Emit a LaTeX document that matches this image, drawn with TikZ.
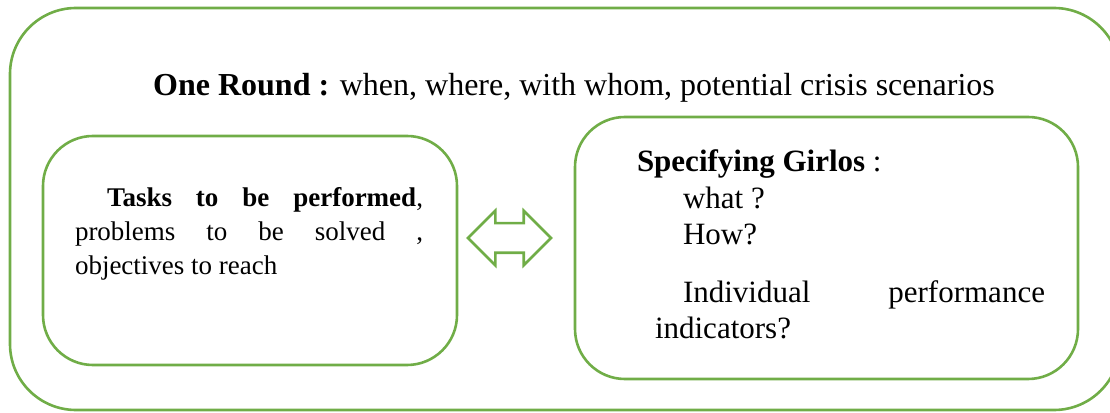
\documentclass[tikz,border=0pt]{standalone}
\usepackage{fontspec}
\setmainfont{Liberation Serif}
\usetikzlibrary{shapes.arrows}
\definecolor{leafgreen}{RGB}{112,173,71}
\setlength{\parindent}{0pt}
\tolerance=9999
\hyphenpenalty=10000
\exhyphenpenalty=10000

\begin{document}
\begin{tikzpicture}[x=1pt,y=1pt,
    roundbox/.style={draw=leafgreen, line width=2.6pt, rounded corners=50pt, inner sep=0pt},
    plain/.style={inner sep=0pt, outer sep=0pt}]
    \useasboundingbox (0,0) rectangle (1110,412);

    \node[roundbox, rounded corners=66pt, minimum width=1110pt, minimum height=402pt] (round) at (565,203) {};
    \node[roundbox, minimum width=414pt, minimum height=229pt] (tasks) at (250,161.5) {};
    \node[roundbox, minimum width=503pt, minimum height=262pt] (girlos) at (826.5,164) {};
    \node[shape=double arrow, draw=leafgreen, line width=2.6pt, inner xsep=0pt, inner ysep=13.5pt,
        minimum height=83pt, double arrow head extend=12.5pt] (swap) at (509.5,174) {};

    \node[plain, anchor=base, font=\fontsize{32}{38}\selectfont] (title) at (574,316)
        {\textbf{One Round :} when, where, with whom, potential crisis scenarios};
    \node[plain, anchor=north west, text width=348pt, align=justify, font=\fontsize{27}{34}\selectfont] (taskstext) at (75,225)
        {\hspace*{32pt}\textbf{Tasks to be performed}, problems to be solved~, objectives to reach};
    \node[plain, anchor=north west, align=left, font=\fontsize{31}{36.5}\selectfont] (ask) at (637,262)
        {\textbf{Specifying Girlos} :\\\hspace*{46pt}what ?\\\hspace*{46pt}How?};
    \node[plain, anchor=north west, text width=390pt, align=justify, font=\fontsize{31}{36}\selectfont] (indic) at (655,131)
        {\hspace*{28pt}Individual performance indicators?};
\end{tikzpicture}
\end{document}
